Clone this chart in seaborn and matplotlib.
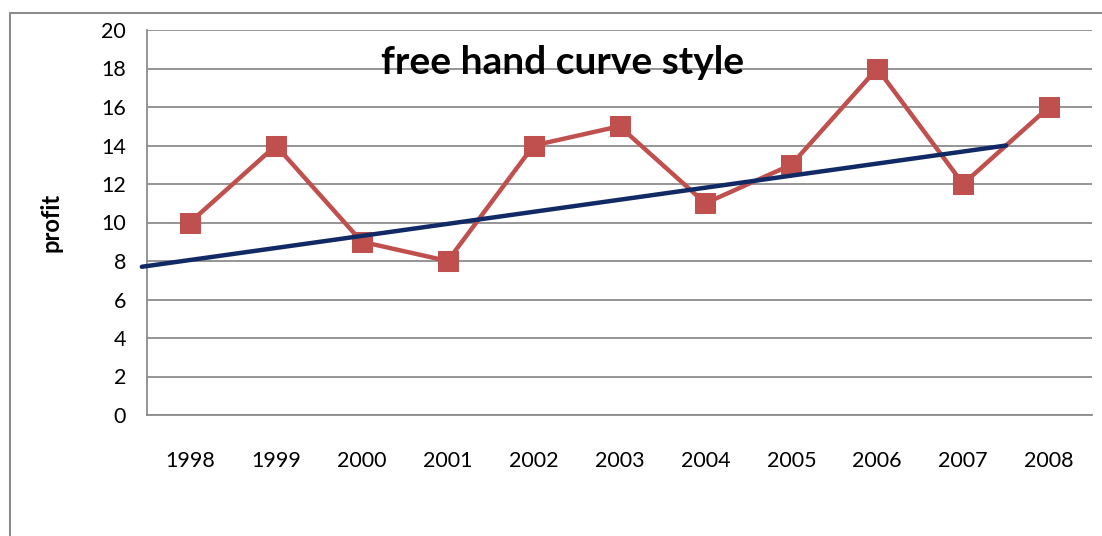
import matplotlib
matplotlib.use("Agg")
import matplotlib.pyplot as plt
import seaborn as sns
import pandas as pd
from matplotlib.lines import Line2D

years = ["1998", "1999", "2000", "2001", "2002", "2003", "2004", "2005", "2006", "2007", "2008"]
profit = [10, 14, 9, 8, 14, 15, 11, 13, 18, 12, 16]
# hand-drawn trend line (category index, value)
trend_x = [-0.56, 9.5]
trend_y = [7.7, 14.0]

sns.set_style("white")
plt.rcParams["font.family"] = ["Lato", "DejaVu Sans"]
plt.rcParams["text.color"] = "black"
plt.rcParams["axes.labelcolor"] = "black"

df = pd.DataFrame({"idx": range(len(years)), "profit": profit})
tr = pd.DataFrame({"x": trend_x, "y": trend_y})

fig = plt.figure(figsize=(11.02, 5.36), dpi=100)
ax = fig.add_axes([147 / 1102, 1 - 415 / 536, (1092 - 147) / 1102, (415 - 30) / 536])

sns.lineplot(data=df, x="idx", y="profit", ax=ax, color="#C0504D", linewidth=3.2,
             marker="s", markersize=14.5, markeredgecolor="#C0504D", zorder=3)
sns.lineplot(data=tr, x="x", y="y", ax=ax, color="#112A66", linewidth=3.2, zorder=4)
ax.lines[-1].set_clip_on(False)

ax.set_xlim(-0.5, len(years) - 0.5)
ax.set_ylim(0, 20)
ax.set_yticks(range(0, 21, 2))
ax.set_xticks(range(len(years)))
ax.set_xticklabels(years)
ax.grid(axis="y", color="#8c8c8c", linewidth=1.3)
ax.set_axisbelow(True)
for s in ["top", "right"]:
    ax.spines[s].set_visible(False)
for s in ["left", "bottom"]:
    ax.spines[s].set_color("#8c8c8c")
    ax.spines[s].set_linewidth(1.3)
ax.tick_params(axis="both", length=0, labelsize=15.5, colors="black")
ax.tick_params(axis="x", pad=26)
ax.tick_params(axis="y", pad=15)
ax.set_xlabel("")
ax.set_ylabel("profit", fontsize=17, fontweight="bold", color="black")
ax.yaxis.set_label_coords(-0.089, 0.5)

ax.text(0.44, 0.915, "free hand curve style", transform=ax.transAxes, ha="center", va="center",
        fontsize=28, fontweight="bold", color="black")

# outer chart border (cut off at right and bottom)
fig.add_artist(Line2D([10 / 1102, 10 / 1102], [0, 1 - 13 / 536], color="#8c8c8c", linewidth=1.5))
fig.add_artist(Line2D([10 / 1102, 1], [1 - 13 / 536, 1 - 13 / 536], color="#8c8c8c", linewidth=1.5))

fig.savefig("out.png", dpi=100)
